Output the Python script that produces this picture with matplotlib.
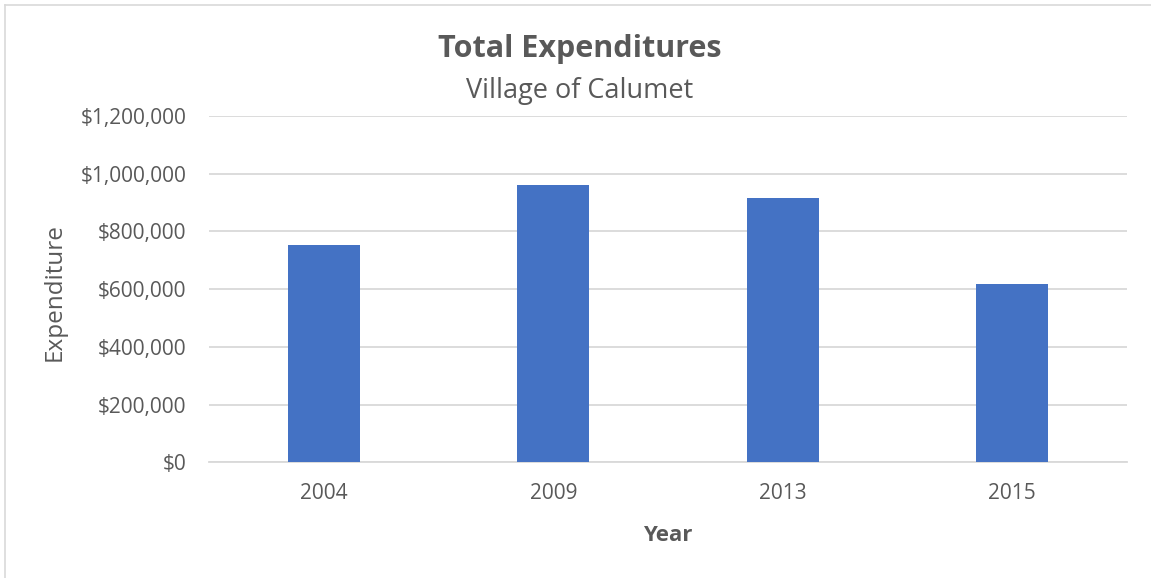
import matplotlib
matplotlib.use('Agg')
import matplotlib.pyplot as plt
from matplotlib.lines import Line2D
from matplotlib.ticker import FuncFormatter

# data
years = ['2004', '2009', '2013', '2015']
expenditure = [752000, 960000, 915000, 619000]
y_ticks = [0, 200000, 400000, 600000, 800000, 1000000, 1200000]

bar_color = '#4472C4'
text_color = '#595959'
grid_color = '#D9D9D9'

plt.rcParams['font.family'] = ['Open Sans', 'DejaVu Sans']

fig = plt.figure(figsize=(11.51, 5.78), dpi=100)
W, H = 1151, 578
ax = fig.add_axes([209.3 / W, 1 - 462.3 / H, (1127 - 209.3) / W, (462.3 - 116) / H])

x = range(len(years))
ax.bar(x, expenditure, width=0.314, color=bar_color, zorder=3)

ax.set_xlim(-0.5, len(years) - 0.5)
ax.set_ylim(0, 1200000)
ax.set_yticks(y_ticks)
ax.yaxis.set_major_formatter(FuncFormatter(lambda v, p: f'${v:,.0f}'))
ax.set_xticks(list(x))
ax.set_xticklabels(years)

ax.grid(axis='y', color=grid_color, linewidth=1.3, zorder=0)
for s in ['top', 'right', 'left']:
    ax.spines[s].set_visible(False)
ax.spines['bottom'].set_color(grid_color)
ax.spines['bottom'].set_linewidth(1.3)
ax.tick_params(axis='both', length=0, labelsize=15, colors=text_color)
ax.tick_params(axis='y', pad=16.5)
ax.tick_params(axis='x', pad=15)

ax.set_ylabel('Expenditure', fontsize=17.5, color=text_color, va='center')
ax.yaxis.set_label_coords(-0.169, 0.492)
ax.set_xlabel('Year', fontsize=16, color=text_color, fontweight='bold', va='center')
ax.xaxis.set_label_coords(0.4998, -0.21)

fig.text(579.5 / W, 1 - 49 / H, 'Total Expenditures', ha='center', va='center',
         fontsize=22, fontweight='bold', color=text_color)
fig.text(579.5 / W, 1 - 91 / H, 'Village of Calumet', ha='center', va='center',
         fontsize=19.5, color=text_color)

# outer chart border (only left/top visible in the reference)
fig.add_artist(Line2D([4.5 / W, 4.5 / W], [0, 1 - 5 / H], color=grid_color, lw=1.2))
fig.add_artist(Line2D([4.5 / W, 1], [1 - 5 / H, 1 - 5 / H], color=grid_color, lw=1.2))

fig.savefig('out.png', dpi=100)
